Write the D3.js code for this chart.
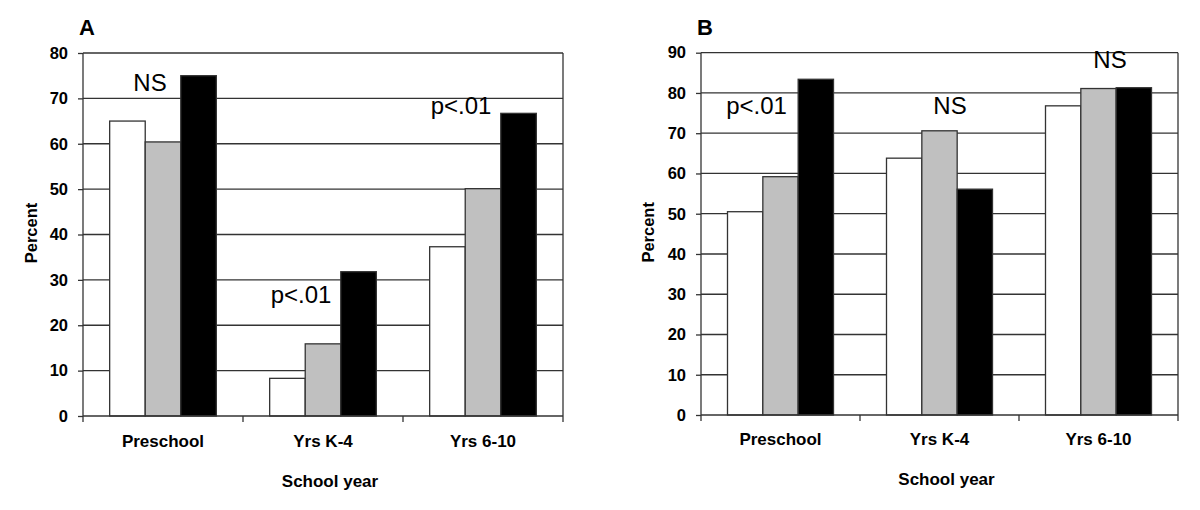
<!DOCTYPE html>
<html>
<head>
<meta charset="utf-8">
<script src="https://cdn.jsdelivr.net/npm/d3@7"></script>
<style>
  html, body { margin: 0; padding: 0; background: #fff; }
  svg { display: block; font-family: "Liberation Sans", Arial, sans-serif; }
</style>
</head>
<body>
<svg id="chart" width="1200" height="510"></svg>
<script>
// ---------------- DATA ----------------
const categories = ["Preschool", "Yrs K-4", "Yrs 6-10"];
const seriesNames = ["Group 1", "Group 2", "Group 3"];
const seriesColors = ["#ffffff", "#c0c0c0", "#000000"];

const panelAValues = [
  [65.0, 60.4, 75.0],
  [8.3, 15.9, 31.8],
  [37.3, 50.1, 66.7]
];
const panelBValues = [
  [50.5, 59.2, 83.4],
  [63.8, 70.6, 56.1],
  [76.8, 81.1, 81.3]
];
const panelATicks = [0, 10, 20, 30, 40, 50, 60, 70, 80];
const panelBTicks = [0, 10, 20, 30, 40, 50, 60, 70, 80, 90];

const panelANotes = ["NS", "p<.01", "p<.01"];
const panelBNotes = ["p<.01", "NS", "NS"];
const panelANoteLevels = [71.7, 24.8, 66.5];
const panelBNoteLevels = [74.7, 74.7, 86.1];

const yTitle = "Percent";
const xTitle = "School year";

// ---------------- LAYOUT ----------------
const svg = d3.select("#chart");

function drawPanel(cfg) {
  const g = svg.append("g").attr("transform", `translate(${cfg.left},${cfg.top})`);
  const W = cfg.width, H = cfg.height;
  const x0 = d3.scaleBand().domain(categories).range([0, W]).padding(0);
  const x1 = d3.scaleBand().domain(seriesNames).range([0, x0.bandwidth()])
    .paddingInner(0).paddingOuter(0.75);
  const y = d3.scaleLinear().domain([0, cfg.ticks[cfg.ticks.length - 1]]).range([H, 0]);
  const lineCol = "#333";

  // gridlines
  g.append("g").selectAll("line").data(cfg.ticks.filter(t => t > 0)).join("line")
    .attr("x1", 0).attr("x2", W)
    .attr("y1", d => y(d)).attr("y2", d => y(d))
    .attr("stroke", lineCol).attr("stroke-width", 1.3);
  // right border
  g.append("line").attr("x1", W).attr("x2", W).attr("y1", 0).attr("y2", H + 6)
    .attr("stroke", lineCol).attr("stroke-width", 1.3);

  // bars
  const groups = g.append("g").selectAll("g").data(categories).join("g")
    .attr("transform", d => `translate(${x0(d)},0)`);
  groups.selectAll("rect")
    .data((c, i) => cfg.values[i].map((v, j) => ({ v, s: seriesNames[j], j })))
    .join("rect")
    .attr("x", d => x1(d.s))
    .attr("width", x1.bandwidth())
    .attr("y", d => y(d.v))
    .attr("height", d => H - y(d.v))
    .attr("fill", d => seriesColors[d.j])
    .attr("stroke", lineCol).attr("stroke-width", 1.3);

  // y axis
  const yAxis = d3.axisLeft(y).tickValues(cfg.ticks).tickSize(5).tickPadding(10).tickSizeOuter(0);
  const ya = g.append("g").call(yAxis);
  ya.select(".domain").remove();
  ya.selectAll(".tick line").attr("stroke", lineCol).attr("stroke-width", 1.3);
  ya.selectAll(".tick text").attr("font-size", 16.5).attr("font-weight", "bold")
    .attr("fill", "#000").attr("font-family", "Liberation Sans, Arial, sans-serif");
  g.append("line").attr("x1", 0).attr("x2", 0).attr("y1", 0).attr("y2", H + 6)
    .attr("stroke", lineCol).attr("stroke-width", 1.3);

  // x axis
  g.append("line").attr("x1", 0).attr("x2", W).attr("y1", H).attr("y2", H)
    .attr("stroke", lineCol).attr("stroke-width", 1.3);
  g.append("g").selectAll("line").data(categories.slice(1)).join("line")
    .attr("x1", d => x0(d)).attr("x2", d => x0(d))
    .attr("y1", H).attr("y2", H + 6)
    .attr("stroke", lineCol).attr("stroke-width", 1.3);
  g.append("g").selectAll("text").data(categories).join("text")
    .attr("x", d => x0(d) + x0.bandwidth() / 2)
    .attr("y", H + 30.5)
    .attr("text-anchor", "middle")
    .attr("font-size", 17).attr("font-weight", "bold").attr("fill", "#000")
    .text(d => d);

  // axis titles
  g.append("text").attr("x", W / 2 + 7).attr("y", H + 70.5)
    .attr("text-anchor", "middle").attr("font-size", 17).attr("font-weight", "bold")
    .attr("fill", "#000").text(xTitle);
  g.append("text")
    .attr("transform", `translate(${cfg.yTitleX},${H / 2 - 1.5}) rotate(-90)`)
    .attr("text-anchor", "middle")
    .attr("font-size", 16.5).attr("font-weight", "bold").attr("fill", "#000")
    .text(yTitle);

  // panel letter
  g.append("text").attr("x", -4).attr("y", -18).attr("font-size", 22)
    .attr("font-weight", "bold").attr("fill", "#000").text(cfg.letter);

  // annotations
  g.append("g").selectAll("text").data(cfg.notes).join("text")
    .attr("x", (d, i) => x0(categories[i]) + x0.bandwidth() / 2 + cfg.noteDx[i])
    .attr("y", (d, i) => y(cfg.noteLevels[i]))
    .attr("text-anchor", "middle").attr("font-size", 24).attr("fill", "#000")
    .text(d => d);
}

drawPanel({
  letter: "A", left: 83, top: 53, width: 480, height: 363,
  values: panelAValues, ticks: panelATicks,
  notes: panelANotes, noteLevels: panelANoteLevels, noteDx: [-13, -22, -22],
  yTitleX: -46
});
drawPanel({
  letter: "B", left: 701, top: 52.7, width: 477, height: 362.3,
  values: panelBValues, ticks: panelBTicks,
  notes: panelBNotes, noteLevels: panelBNoteLevels, noteDx: [-24, 10.5, 11.5],
  yTitleX: -47
});
</script>
</body>
</html>
